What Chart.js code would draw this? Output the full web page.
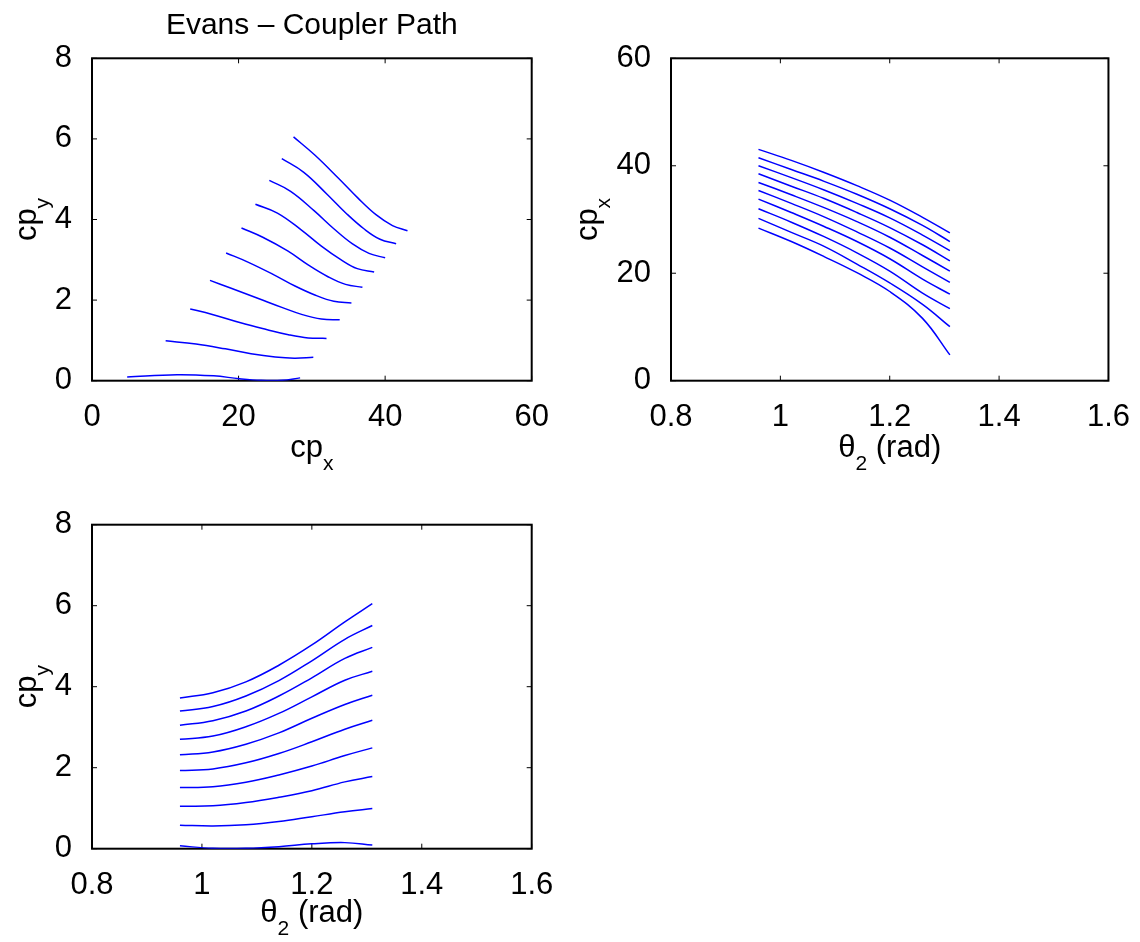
<!DOCTYPE html>
<html>
<head>
<meta charset="utf-8">
<script src="https://cdn.jsdelivr.net/npm/chart.js"></script>
<style>
  body { margin: 0; background: #fff; }
  #fig { position: relative; width: 1140px; height: 942px; }
  #fig canvas { position: absolute; }
</style>
</head>
<body>
<div id="fig">
  <canvas id="pathChart" width="570" height="471" style="left:0;top:0"></canvas>
  <canvas id="cpxChart" width="570" height="471" style="left:570px;top:0"></canvas>
  <canvas id="cpyChart" width="570" height="471" style="left:0;top:471px"></canvas>
</div>
<script>
// crank angle samples (rad), shared by every curve
const theta2 = [0.96, 1.02, 1.08, 1.14, 1.20, 1.26, 1.31];

// coupler point x for each of the 10 linkages (bottom curve first)
const cpxCurves = [
  [28.4, 25.9, 23.1, 20.1, 16.6, 11.6, 4.8],
  [30.2, 27.6, 25.0, 21.7, 18.2, 14.2, 10.05],
  [32.0, 29.5, 26.8, 23.8, 20.4, 16.3, 13.4],
  [33.8, 31.3, 28.7, 25.9, 22.7, 18.9, 16.1],
  [35.4, 33.0, 30.5, 27.7, 24.7, 21.2, 18.3],
  [36.9, 34.6, 32.2, 29.6, 26.7, 23.3, 20.4],
  [38.5, 36.2, 33.9, 31.3, 28.5, 25.3, 22.3],
  [40.0, 37.8, 35.5, 33.0, 30.3, 27.1, 24.2],
  [41.5, 39.3, 37.1, 34.7, 32.0, 28.9, 25.9],
  [43.05, 41.0, 38.75, 36.3, 33.6, 30.4, 27.5]
];

// coupler point y for the same linkages
const cpyCurves = [
  [0.07, 0.01, 0.01, 0.05, 0.12, 0.15, 0.09],
  [0.58, 0.56, 0.59, 0.67, 0.79, 0.91, 0.99],
  [1.05, 1.06, 1.14, 1.27, 1.43, 1.65, 1.78],
  [1.51, 1.53, 1.64, 1.82, 2.04, 2.30, 2.49],
  [1.93, 1.97, 2.12, 2.35, 2.64, 2.95, 3.17],
  [2.32, 2.39, 2.58, 2.86, 3.22, 3.56, 3.79],
  [2.70, 2.78, 3.01, 3.34, 3.75, 4.16, 4.38],
  [3.05, 3.16, 3.40, 3.77, 4.22, 4.70, 4.97],
  [3.40, 3.51, 3.77, 4.15, 4.64, 5.17, 5.51],
  [3.72, 3.85, 4.12, 4.53, 5.03, 5.60, 6.05]
];

const cpTicks = [0, 2, 4, 6, 8];
const cpxTicks = [0, 20, 40, 60];
const thetaTicks = [0.8, 1, 1.2, 1.4, 1.6];

const FAMILY = '"Liberation Sans", Arial, Helvetica, sans-serif';
const MAIN = 31, SUB = 21, DROP = 13;

// MATLAB style box with inward ticks on all four sides
const boxPlugin = {
  id: 'matBox',
  beforeDatasetsDraw(chart) {
    const { ctx, chartArea: a, scales } = chart;
    ctx.save();
    ctx.strokeStyle = '#000';
    ctx.lineWidth = 1;
    ctx.beginPath();
    scales.x.ticks.forEach(t => {
      const px = scales.x.getPixelForValue(t.value);
      ctx.moveTo(px, a.bottom); ctx.lineTo(px, a.bottom - 5);
      ctx.moveTo(px, a.top); ctx.lineTo(px, a.top + 5);
    });
    scales.y.ticks.forEach(t => {
      const py = scales.y.getPixelForValue(t.value);
      ctx.moveTo(a.left, py); ctx.lineTo(a.left + 5, py);
      ctx.moveTo(a.right, py); ctx.lineTo(a.right - 5, py);
    });
    ctx.stroke();
    ctx.lineWidth = 2;
    ctx.strokeRect(a.left, a.top, a.right - a.left, a.bottom - a.top);
    ctx.restore();
  }
};

function drawParts(ctx, parts) {
  const fonts = parts.map(p => (p.sub ? SUB : MAIN) + 'px ' + FAMILY);
  const widths = parts.map((p, i) => { ctx.font = fonts[i]; return ctx.measureText(p.text).width; });
  let x = -widths.reduce((s, w) => s + w, 0) / 2;
  ctx.fillStyle = '#000';
  ctx.textAlign = 'left';
  ctx.textBaseline = 'alphabetic';
  parts.forEach((p, i) => {
    ctx.font = fonts[i];
    ctx.fillText(p.text, x, p.sub ? DROP : 0);
    x += widths[i];
  });
}

// axis labels with subscripts (cp_x, theta_2)
const labelPlugin = {
  id: 'subLabels',
  afterDraw(chart, args, opts) {
    const ctx = chart.ctx, a = chart.chartArea;
    if (opts.x) {
      ctx.save();
      ctx.translate((a.left + a.right) / 2, a.bottom + opts.x.gap);
      drawParts(ctx, opts.x.parts);
      ctx.restore();
    }
    if (opts.y) {
      ctx.save();
      ctx.translate(a.left - opts.y.gap, (a.top + a.bottom) / 2);
      ctx.rotate(-Math.PI / 2);
      drawParts(ctx, opts.y.parts);
      ctx.restore();
    }
  }
};

const cpxLabel = [{ text: 'cp' }, { text: 'x', sub: true }];
const cpyLabel = [{ text: 'cp' }, { text: 'y', sub: true }];
const thetaLabel = [{ text: 'θ' }, { text: '2', sub: true }, { text: ' (rad)' }];

function makeSets(xs, ys) {
  return xs.map((xRow, k) => ({
    data: xRow.map((xv, i) => ({ x: xv, y: ys[k][i] })),
    borderColor: '#0000ff',
    borderWidth: 1.5,
    pointRadius: 0,
    fill: false,
    tension: 0.4
  }));
}

function axis(min, max, step, ticks, extra, pad) {
  return {
    type: 'linear',
    min: min, max: max,
    grid: { display: false },
    border: { display: false },
    afterBuildTicks: s => { s.ticks = ticks.map(v => ({ value: v })); },
    afterFit: extra,
    ticks: {
      stepSize: step,
      padding: pad,
      maxRotation: 0,
      color: '#000',
      font: { size: MAIN, family: FAMILY },
      callback: v => String(Math.round(v * 10) / 10)
    }
  };
}

function makeChart(id, sets, xAxis, yAxis, layoutPad, labels, title) {
  return new Chart(document.getElementById(id), {
    type: 'line',
    data: { datasets: sets },
    options: {
      responsive: false,
      animation: false,
      devicePixelRatio: 1,
      layout: { padding: layoutPad },
      scales: { x: xAxis, y: yAxis },
      plugins: {
        legend: { display: false },
        tooltip: { enabled: false },
        title: title || { display: false },
        subLabels: labels
      }
    },
    plugins: [boxPlugin, labelPlugin]
  });
}

// top left: coupler path cp_y vs cp_x
const thetaRows = cpxCurves.map(() => theta2);
makeChart('pathChart',
  makeSets(cpxCurves, cpyCurves),
  axis(0, 60, 20, cpxTicks, s => { s.height = 90.3; }, 10),
  axis(0, 8, 2, cpTicks, s => { s.width = 92; }, 12),
  { left: 0, right: 38.3, top: 0, bottom: 0 },
  { x: { gap: 76, parts: cpxLabel }, y: { gap: 56, parts: cpyLabel } },
  {
    display: true,
    text: 'Evans – Coupler Path',
    color: '#000',
    fullSize: false,
    font: { size: 30, family: FAMILY, weight: 'normal' },
    padding: { top: 8, bottom: 14.3 }
  }
);

// top right: cp_x vs theta_2
makeChart('cpxChart',
  makeSets(thetaRows, cpxCurves),
  axis(0.8, 1.6, 0.2, thetaTicks, s => { s.height = 90.3; }, 10),
  axis(0, 60, 20, cpxTicks, s => { s.width = 101; }, 12),
  { left: 0, right: 29.3, top: 58.3, bottom: 0 },
  { x: { gap: 76, parts: thetaLabel }, y: { gap: 74, parts: cpxLabel } }
);

// bottom left: cp_y vs theta_2
makeChart('cpyChart',
  makeSets(thetaRows, cpyCurves),
  axis(0.8, 1.6, 0.2, thetaTicks, s => { s.height = 93.3; }, 10),
  axis(0, 8, 2, cpTicks, s => { s.width = 92; }, 12),
  { left: 0, right: 38.3, top: 53.7, bottom: 0 },
  { x: { gap: 73, parts: thetaLabel }, y: { gap: 56, parts: cpyLabel } }
);
</script>
</body>
</html>
